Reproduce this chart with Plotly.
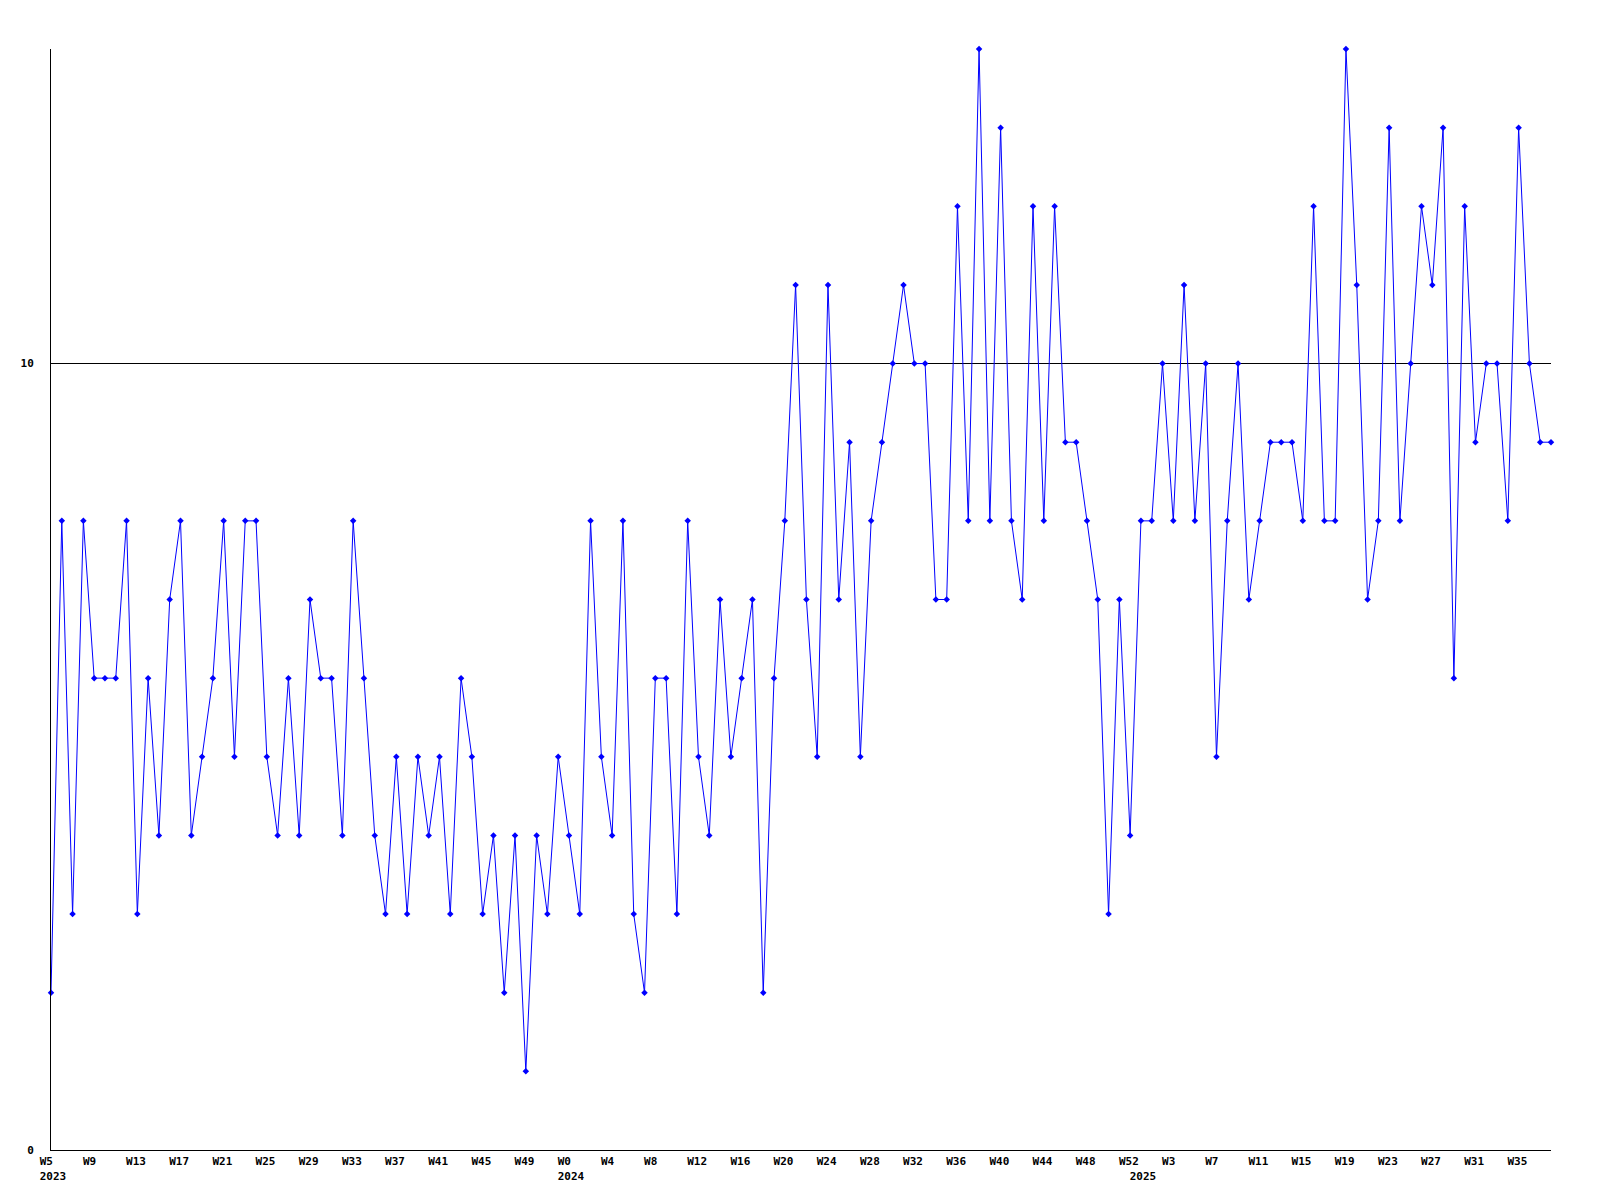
import plotly.graph_objects as go

# ---- data -------------------------------------------------------------
year_2023_weeks = list(range(5, 53))    # W5 .. W52
year_2024_weeks = list(range(0, 53))    # W0 .. W52
year_2025_weeks = list(range(0, 39))    # W0 .. W38

values_2023 = [2, 8, 3, 8, 6, 6, 6, 8, 3, 6, 4, 7, 8, 4, 5, 6, 8, 5, 8, 8,
               5, 4, 6, 4, 7, 6, 6, 4, 8, 6, 4, 3, 5, 3, 5, 4, 5, 3, 6, 5,
               3, 4, 2, 4, 1, 4, 3, 5]
values_2024 = [4, 3, 8, 5, 4, 8, 3, 2, 6, 6, 3, 8, 5, 4, 7, 5, 6, 7, 2, 6,
               8, 11, 7, 5, 11, 7, 9, 5, 8, 9, 10, 11, 10, 10, 7, 7, 12, 8, 14, 8,
               13, 8, 7, 12, 8, 12, 9, 9, 8, 7, 3, 7, 4]
values_2025 = [8, 8, 10, 8, 11, 8, 10, 5, 8, 10, 7, 8, 9, 9, 9, 8, 12, 8, 8, 14,
               11, 7, 8, 13, 8, 10, 12, 11, 13, 6, 12, 9, 10, 10, 8, 13, 10, 9, 9]

y_tick_values = [0, 10]
label_every = 4

# ---- build categories / labels ----------------------------------------
years = [(2023, year_2023_weeks, values_2023),
         (2024, year_2024_weeks, values_2024),
         (2025, year_2025_weeks, values_2025)]

categories, values = [], []
tickvals, ticktext = [], []
NB = "\u00a0"
idx = 0
for yr, weeks, vals in years:
    for j, (wk, v) in enumerate(zip(weeks, vals)):
        cat = f"{yr}-W{wk:02d}"
        categories.append(cat)
        values.append(v)
        week_lbl = f"W{wk}" if idx % label_every == 0 else ""
        year_lbl = str(yr) if j == 0 else ""
        if week_lbl or year_lbl:
            top = (week_lbl or NB).ljust(4, NB)
            if year_lbl:
                txt = top + "<br>" + year_lbl.ljust(4, NB)
            else:
                txt = top
            tickvals.append(cat)
            ticktext.append(txt)
        idx += 1

# ---- figure -----------------------------------------------------------
fig = go.Figure()
fig.add_trace(go.Scatter(
    x=categories, y=values, mode="lines+markers",
    line=dict(color="#0000FF", width=1),
    marker=dict(symbol="diamond", size=5, color="#0000FF", line=dict(width=0)),
    cliponaxis=False, showlegend=False,
))

tickfont = dict(family="DejaVu Sans Mono", size=11, color="black", weight="bold")

fig.update_layout(
    width=1600, height=1200,
    margin=dict(l=43, r=57, t=41, b=58),
    paper_bgcolor="white", plot_bgcolor="white",
    xaxis=dict(
        type="category", range=[0, len(categories) - 1],
        tickmode="array", tickvals=tickvals, ticktext=ticktext,
        tickangle=0, ticks="", showgrid=False, zeroline=False,
        showline=True, linecolor="black", linewidth=1,
        tickfont=tickfont, ticklabelshift=2, ticklabelstandoff=1,
    ),
    yaxis=dict(
        range=[0, 14], tickmode="array", tickvals=y_tick_values,
        ticks="", showgrid=True, gridcolor="black", gridwidth=1,
        zeroline=False, showline=True, linecolor="black", linewidth=1,
        tickfont=tickfont, ticklabelstandoff=14,
    ),
)

fig.write_html("out.html")
